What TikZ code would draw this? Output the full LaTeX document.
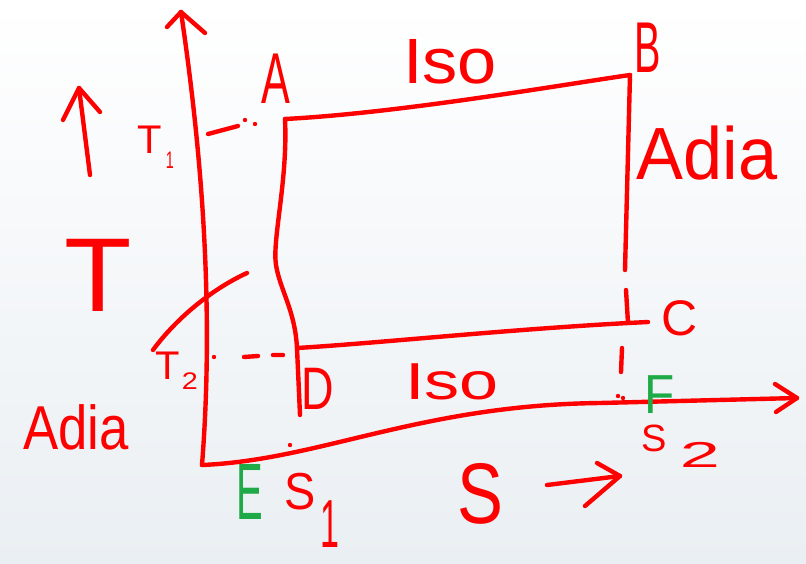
\documentclass[tikz,border=0pt]{standalone}
\usepackage{fontspec}
\setmainfont{Liberation Sans}
\definecolor{pen}{RGB}{255,0,0}
\definecolor{gpen}{RGB}{30,170,70}
\definecolor{bgtop}{RGB}{255,255,255}
\definecolor{bgbot}{RGB}{234,239,243}
\begin{document}
\begin{tikzpicture}[x=1pt,y=-1pt,
  stroke/.style={draw=pen, line width=4.4pt, line cap=round, line join=round},
  gstroke/.style={draw=gpen, line width=4.4pt, line cap=round},
  lab/.style={text=pen, inner sep=0pt, anchor=center},
  glab/.style={text=gpen, inner sep=0pt, anchor=center},
  fs/.style={font=\fontsize{#1}{#1}\selectfont}]
\shade[top color=bgtop, bottom color=bgbot] (0,0) rectangle (806,563);
\useasboundingbox (0,0) rectangle (806,563);
% key points
\coordinate (O) at (202,465);
\coordinate (Ttip) at (181,12);
\coordinate (Stip) at (797,398);
\coordinate (A) at (285,119);
\coordinate (B) at (630,75);
\coordinate (C) at (628,323);
\coordinate (D) at (297,348);
% axes
\draw[stroke] (Ttip) .. controls (200,140) and (215,300) .. (O);
\draw[stroke] (O) .. controls (320,460) and (420,405) .. (600,403) -- (Stip);
\coordinate (tl) at (167,27); \coordinate (tr) at (205,33);
\draw[stroke] (tl) -- (Ttip) -- (tr);
\coordinate (sl) at (775,384); \coordinate (sr) at (776,412);
\draw[stroke] (sl) -- (Stip) -- (sr);
% cycle
\draw[stroke] (A) .. controls (400,113) and (560,85) .. (B);
\draw[stroke] (B) -- (625,270);
\draw[stroke] (626,290) -- (C);
\coordinate (Cx) at (648,322);
\draw[stroke] (Cx) -- (C) .. controls (500,330) and (380,343) .. (D);
\draw[stroke] (A) .. controls (288,180) and (272,240) .. (276,265) .. controls (280,290) and (295,310) .. (D);
\draw[stroke] (D) -- (300,415);
% dashed guides
\coordinate (C1) at (622,348); \coordinate (C2) at (621,372);
\draw[stroke] (C1) -- (C2);
\fill[pen] (618,396) circle (2.2pt) (623,398) circle (2.2pt) (290,445) circle (2.2pt);
\coordinate (T1a) at (208,134); \coordinate (T1b) at (238,126);
\draw[stroke] (T1a) -- (T1b);
\fill[pen] (245,120) circle (2.2pt) (255,124) circle (2.2pt);
\coordinate (T2a) at (244,357); \coordinate (T2b) at (258,356);
\coordinate (T2c) at (273,355); \coordinate (T2d) at (283,355);
\fill[pen] (214,357) circle (2.2pt);
\draw[stroke] (T2a) -- (T2b) (T2c) -- (T2d);
% curved stroke
\coordinate (cv1) at (153,350); \coordinate (cv2) at (247,273);
\draw[stroke] (cv1) .. controls (175,320) and (210,290) .. (cv2);
% T arrow
\coordinate (ua) at (90,175); \coordinate (ub) at (79,88);
\coordinate (ul) at (63,120); \coordinate (ur) at (100,112);
\draw[stroke] (ua) -- (ub);
\draw[stroke] (ul) -- (ub) -- (ur);
% S arrow
\coordinate (sa) at (547,485); \coordinate (sb) at (620,476);
\coordinate (sbl) at (597,463); \coordinate (sbr) at (585,506);
\draw[stroke] (sa) -- (sb);
\draw[stroke] (sbl) -- (sb) -- (sbr);
% labels
\node[lab, fs=72, xscale=0.6] (lA) at (276,79) {A};
\node[lab, fs=72, xscale=0.55] (lB) at (648,48) {B};
\node[lab, fs=50] (lC) at (680,318) {C};
\node[lab, fs=60, xscale=0.75] (lD) at (318,389) {D};
\node[lab, fs=64, xscale=1.1] (iso1) at (450,62) {Iso};
\node[lab, fs=52, xscale=1.35] (iso2) at (452,382) {Iso};
\node[lab, fs=74, xscale=0.95] (adia1) at (707,153) {Adia};
\node[lab, fs=62, xscale=0.85] (adia2) at (76,427) {Adia};
\node[lab, fs=105, xscale=1.05] (bigT) at (98,275) {T};
\node[lab, fs=40] (t1) at (150,140) {T};
\node[lab, fs=24, xscale=0.6] (t1s) at (170,160) {1};
\node[lab, fs=40] (t2) at (168,366) {T};
\node[lab, fs=24, xscale=1.2] (t2s) at (190,381) {2};
\node[lab, fs=86, xscale=0.8] (bigS) at (480,494) {S};
\node[lab, fs=52, xscale=0.9] (s1) at (300,492) {S};
\node[lab, fs=68, xscale=0.5] (s1s) at (330,524) {1};
\node[lab, fs=38] (s2) at (654,438) {S};
\node[lab, fs=36, xscale=2.0] (s2s) at (700,455) {2};
\node[glab, fs=80, xscale=0.5] (gE) at (250,492) {E};
\node[glab, fs=55, xscale=0.9] (gF) at (660,395) {F};
\end{tikzpicture}
\end{document}
